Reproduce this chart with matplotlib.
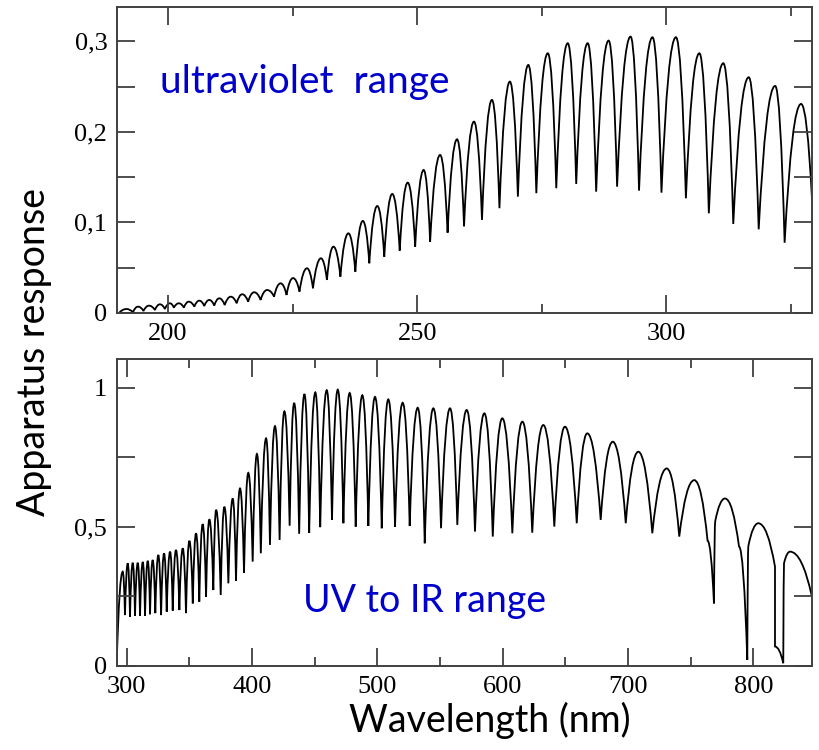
"""Apparatus response of the spectrometer: UV range and UV-to-IR range."""

import matplotlib

matplotlib.use("Agg")
import matplotlib.pyplot as plt
from matplotlib.patches import PathPatch
from matplotlib.path import Path
from matplotlib.ticker import FixedLocator, FuncFormatter

# Upper panel: fringe troughs / peaks
uv_wavelength = [
    190.2, 191.7, 193.0, 194.0, 195.1, 196.2, 197.4, 198.4, 199.4, 200.4,
    201.2, 202.2, 203.2, 204.2, 205.3, 206.3, 207.3, 208.3, 209.3, 210.3,
    211.4, 212.6, 213.8, 214.9, 216.1, 217.3, 218.6, 219.9, 221.3, 222.6,
    223.8, 225.1, 226.4, 227.9, 229.1, 230.7, 231.9, 233.2, 234.6, 236.2,
    237.6, 239.1, 240.4, 242.0, 243.4, 245.0, 246.5, 248.1, 249.6, 251.3,
    252.6, 254.6, 256.1, 258.0, 259.4, 261.4, 263.0, 265.0, 266.5, 268.6,
    270.2, 272.3, 273.9, 276.2, 277.9, 280.2, 281.9, 284.2, 285.9, 288.4,
    290.1, 292.8, 294.5, 297.2, 299.0, 301.9, 303.9, 306.6, 308.5, 311.4,
    313.4, 316.5, 318.5, 321.8, 323.7, 327.0, 329.2,
]
uv_response = [
    0.0000, 0.0044, 0.0008, 0.0070, 0.0022, 0.0081, 0.0033, 0.0096, 0.0044, 0.0107,
    0.0059, 0.0107, 0.0059, 0.0125, 0.0070, 0.0136, 0.0077, 0.0144, 0.0081, 0.0162,
    0.0088, 0.0180, 0.0107, 0.0207, 0.0125, 0.0229, 0.0144, 0.0254, 0.0180, 0.0328,
    0.0199, 0.0386, 0.0236, 0.0494, 0.0273, 0.0604, 0.0365, 0.0733, 0.0401, 0.0880,
    0.0456, 0.1017, 0.0549, 0.1182, 0.0622, 0.1315, 0.0689, 0.1440, 0.0733, 0.1580,
    0.0788, 0.1746, 0.0887, 0.1919, 0.0958, 0.2114, 0.1028, 0.2354, 0.1157, 0.2556,
    0.1285, 0.2740, 0.1323, 0.2869, 0.1378, 0.2980, 0.1425, 0.2980, 0.1340, 0.3009,
    0.1395, 0.3053, 0.1351, 0.3046, 0.1329, 0.3046, 0.1267, 0.2869, 0.1101, 0.2759,
    0.0983, 0.2604, 0.0924, 0.2508, 0.0776, 0.2309, 0.1250,
]

# Lower panel: fringe troughs / peaks
vis_wavelength = [
    292.0, 296.8, 298.6, 300.8, 302.6, 304.8, 306.6, 308.8, 310.6, 312.8,
    314.6, 316.8, 318.6, 320.7, 322.8, 325.2, 327.4, 329.8, 331.9, 334.6,
    336.7, 339.3, 342.0, 344.7, 347.3, 350.0, 352.7, 355.3, 357.9, 360.6,
    363.3, 365.9, 369.1, 371.3, 375.0, 377.9, 381.1, 384.6, 387.2, 390.4,
    393.6, 397.0, 400.5, 403.9, 407.0, 411.2, 414.3, 418.3, 422.0, 425.8,
    430.0, 433.6, 437.6, 441.8, 445.6, 450.5, 454.4, 459.6, 463.8, 468.4,
    472.9, 477.9, 482.7, 488.0, 492.8, 498.1, 503.5, 508.7, 514.1, 520.2,
    525.8, 532.2, 537.8, 544.7, 550.8, 558.0, 563.8, 571.3, 577.9, 585.4,
    592.1, 599.7, 607.7, 615.7, 623.6, 632.4, 641.2, 649.7, 659.1, 667.5,
    678.2, 687.8, 698.2, 708.2, 719.4, 730.9, 740.9, 752.9, 763.5, 768.6,
    769.6, 777.4, 788.6, 795.2, 796.0, 804.0, 817.3, 817.3, 823.9, 824.5,
    829.3, 846.6,
]
vis_response = [
    0.010, 0.339, 0.183, 0.369, 0.177, 0.371, 0.180, 0.371, 0.180, 0.374,
    0.181, 0.378, 0.186, 0.381, 0.190, 0.399, 0.183, 0.405, 0.195, 0.411,
    0.199, 0.417, 0.201, 0.423, 0.190, 0.450, 0.225, 0.477, 0.231, 0.510,
    0.249, 0.527, 0.273, 0.561, 0.255, 0.572, 0.297, 0.602, 0.306, 0.638,
    0.335, 0.694, 0.375, 0.762, 0.405, 0.818, 0.435, 0.862, 0.453, 0.915,
    0.504, 0.945, 0.475, 0.977, 0.478, 0.983, 0.499, 0.991, 0.525, 0.993,
    0.513, 0.981, 0.501, 0.973, 0.503, 0.967, 0.495, 0.958, 0.501, 0.946,
    0.503, 0.928, 0.441, 0.926, 0.495, 0.926, 0.507, 0.920, 0.483, 0.908,
    0.465, 0.890, 0.477, 0.878, 0.479, 0.866, 0.501, 0.860, 0.513, 0.836,
    0.525, 0.806, 0.513, 0.770, 0.477, 0.710, 0.465, 0.668, 0.450, 0.225,
    0.520, 0.602, 0.429, 0.022, 0.430, 0.513, 0.357, 0.070, 0.010, 0.369,
    0.411, 0.253,
]

uv_xticks = [200, 250, 300]
uv_xminor = [225, 275, 325]
uv_yticks = [0, 0.1, 0.2, 0.3]
uv_yminor = [0.05, 0.15, 0.25]
vis_xticks = [300, 400, 500, 600, 700, 800]
vis_xminor = [350, 450, 550, 650, 750]
vis_yticks = [0, 0.5, 1]
vis_yminor = [0.25, 0.75]

SANS = ["Lato", "DejaVu Sans"]
SERIF = "Liberation Serif"
BLUE = "#0000cc"
SPINE = "#404040"


def scallop_path(wl, resp, k=0.45):
    """Join the read points with arcs that are rounded at the top, cusped at the bottom."""
    verts = [(wl[0], resp[0])]
    codes = [Path.MOVETO]
    for x0, y0, x1, y1 in zip(wl[:-1], resp[:-1], wl[1:], resp[1:]):
        if y1 >= y0:
            ctrl = (x0 + k * (x1 - x0), y1)
        else:
            ctrl = (x1 - k * (x1 - x0), y0)
        verts += [ctrl, (x1, y1)]
        codes += [Path.CURVE3, Path.CURVE3]
    return Path(verts, codes)


def comma_fmt(v, _pos):
    return ("%g" % v).replace(".", ",")


def style_axes(ax, xticks, xminor, yticks, yminor):
    ax.xaxis.set_major_locator(FixedLocator(xticks))
    ax.xaxis.set_minor_locator(FixedLocator(xminor))
    ax.yaxis.set_major_locator(FixedLocator(yticks))
    ax.yaxis.set_minor_locator(FixedLocator(yminor))
    ax.yaxis.set_major_formatter(FuncFormatter(comma_fmt))
    ax.tick_params(which="both", direction="in", top=True, right=True,
                   color=SPINE, width=1.3)
    ax.tick_params(which="major", length=13, labelsize=19, pad=7)
    ax.tick_params(axis="x", which="minor", length=6.5)
    ax.tick_params(axis="y", which="minor", length=13)
    for lab in ax.get_xticklabels() + ax.get_yticklabels():
        lab.set_family(SERIF)
    for sp in ax.spines.values():
        sp.set_color(SPINE)
        sp.set_linewidth(1.4)


fig = plt.figure(figsize=(8.19, 7.5), dpi=100)
ax_uv = fig.add_axes([0.1429, 0.5827, 0.8486, 0.408])
ax_vis = fig.add_axes([0.1425, 0.112, 0.8486, 0.4089])

ax_uv.add_patch(PathPatch(scallop_path(uv_wavelength, uv_response),
                          fill=False, edgecolor="black", linewidth=1.3))
ax_uv.set_xlim(189.8, 329.2)
ax_uv.set_ylim(0, 0.338)
style_axes(ax_uv, uv_xticks, uv_xminor, uv_yticks, uv_yminor)

ax_vis.add_patch(PathPatch(scallop_path(vis_wavelength, vis_response),
                           fill=False, edgecolor="black", linewidth=1.3))
ax_vis.set_xlim(292.0, 846.6)
ax_vis.set_ylim(0, 1.102)
style_axes(ax_vis, vis_xticks, vis_xminor, vis_yticks, vis_yminor)

fig.text(160 / 819, 1 - 93 / 750, "ultraviolet  range", color=BLUE,
         family=SANS, fontsize=28, ha="left", va="baseline")
fig.text(303 / 819, 1 - 612 / 750, "UV to IR range", color=BLUE,
         family=SANS, fontsize=27, ha="left", va="baseline")
fig.text(34 / 819, 1 - 352 / 750, "Apparatus response", rotation=90,
         family=SANS, fontsize=27, ha="center", va="center")
fig.text(490 / 819, 1 - 720 / 750, "Wavelength (nm)",
         family=SANS, fontsize=27, ha="center", va="center")

fig.savefig("out.png", dpi=100)
plt.close(fig)
